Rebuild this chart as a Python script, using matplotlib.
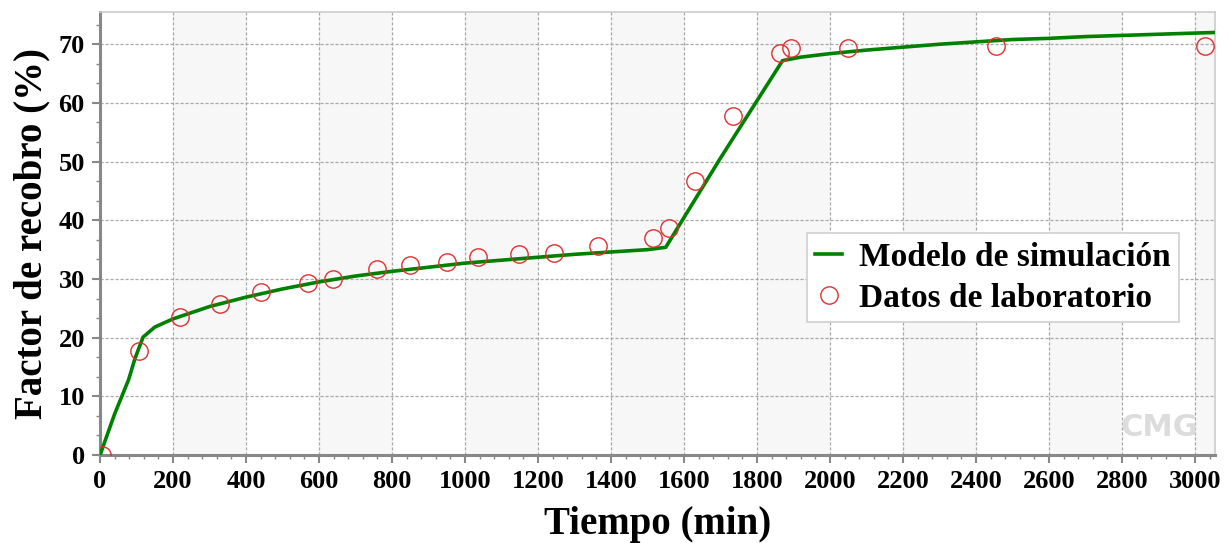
import numpy as np
import matplotlib
matplotlib.use("Agg")
import matplotlib.pyplot as plt
from matplotlib.ticker import MultipleLocator

# simulation curve (time in min, recovery factor in %)
sim_t = [0, 40, 78, 96, 118, 150, 200, 300, 400, 500, 600, 700, 800, 900,
         1000, 1100, 1200, 1300, 1400, 1500, 1550, 1700, 1870, 1920, 2000,
         2100, 2200, 2300, 2400, 2500, 2600, 2700, 2800, 2900, 3000, 3055]
sim_fr = [0, 7.0, 12.8, 16.5, 20.1, 21.8, 23.2, 25.3, 26.9, 28.3, 29.5, 30.5,
          31.3, 32.0, 32.7, 33.2, 33.7, 34.2, 34.6, 35.0, 35.4, 50.6, 67.2,
          67.8, 68.4, 69.0, 69.5, 70.0, 70.4, 70.8, 71.0, 71.3, 71.5, 71.7,
          71.9, 72.0]

# laboratory data
lab_t = [5, 107, 219, 329, 441, 570, 638, 759, 849, 951, 1036, 1148, 1244,
         1364, 1515, 1559, 1630, 1734, 1863, 1893, 2049, 2455, 3027]
lab_fr = [0, 17.7, 23.5, 25.7, 27.8, 29.3, 30.0, 31.7, 32.4, 32.9, 33.7,
          34.2, 34.4, 35.6, 37.0, 38.7, 46.7, 57.8, 68.5, 69.3, 69.3, 69.7,
          69.7]

plt.rcParams['font.family'] = ['Liberation Serif', 'DejaVu Serif']
plt.rcParams['font.weight'] = 'bold'

fig = plt.figure(figsize=(12.29, 5.43), dpi=100)
ax = fig.add_axes([0.0814, 0.162, 0.9072, 0.816])

xmax = 3055
ymax = 75.5
ax.set_xlim(0, xmax)
ax.set_ylim(0, ymax)

# alternating shaded bands
for x0 in range(200, xmax, 400):
    ax.axvspan(x0, min(x0 + 200, xmax), color='#f7f7f7', zorder=0, lw=0)

ax.grid(True, which='major', linestyle=(0, (2.5, 1.5)), color='#a8a8a8', lw=0.9)
ax.set_axisbelow(True)

ax.plot(sim_t, sim_fr, color='#008000', lw=2.6, label='Modelo de simulación',
        zorder=3)
ax.plot(lab_t, lab_fr, linestyle='none', marker='o', markersize=12.5,
        markerfacecolor='none', markeredgecolor='#e03030', markeredgewidth=1.0,
        label='Datos de laboratorio', zorder=4)

ax.xaxis.set_major_locator(MultipleLocator(200))
ax.xaxis.set_minor_locator(MultipleLocator(40))
ax.yaxis.set_major_locator(MultipleLocator(10))
ax.yaxis.set_minor_locator(MultipleLocator(10 / 3))

ax.tick_params(which='major', direction='out', length=6, width=1.5,
               color='#888888', labelsize=19, pad=5)
ax.tick_params(which='minor', direction='out', length=3, width=1,
               color='#888888')
for lbl in ax.get_xticklabels() + ax.get_yticklabels():
    lbl.set_fontweight('bold')

for side in ['left', 'bottom']:
    ax.spines[side].set_color('#888888')
    ax.spines[side].set_linewidth(2.2)
for side in ['top', 'right']:
    ax.spines[side].set_color('#cccccc')
    ax.spines[side].set_linewidth(1.2)

ax.set_xlabel('Tiempo (min)', fontsize=28, fontweight='bold', labelpad=9)
ax.set_ylabel('Factor de recobro (%)', fontsize=28, fontweight='bold',
              labelpad=6)

leg = ax.legend(loc='upper left', bbox_to_anchor=(0.634, 0.5),
                prop={'size': 24, 'weight': 'bold'}, frameon=True,
                fancybox=False, edgecolor='#d0d0d0', framealpha=1,
                handlelength=0.8, handletextpad=0.5, borderpad=0.25,
                labelspacing=0.3, borderaxespad=0)
leg.get_frame().set_linewidth(1.2)

# watermark
ax.text(0.985, 0.03, 'CMG', transform=ax.transAxes, ha='right', va='bottom',
        fontsize=22, color='#dcdcdc', family='DejaVu Sans', zorder=1)

fig.savefig('out.png', dpi=100)
